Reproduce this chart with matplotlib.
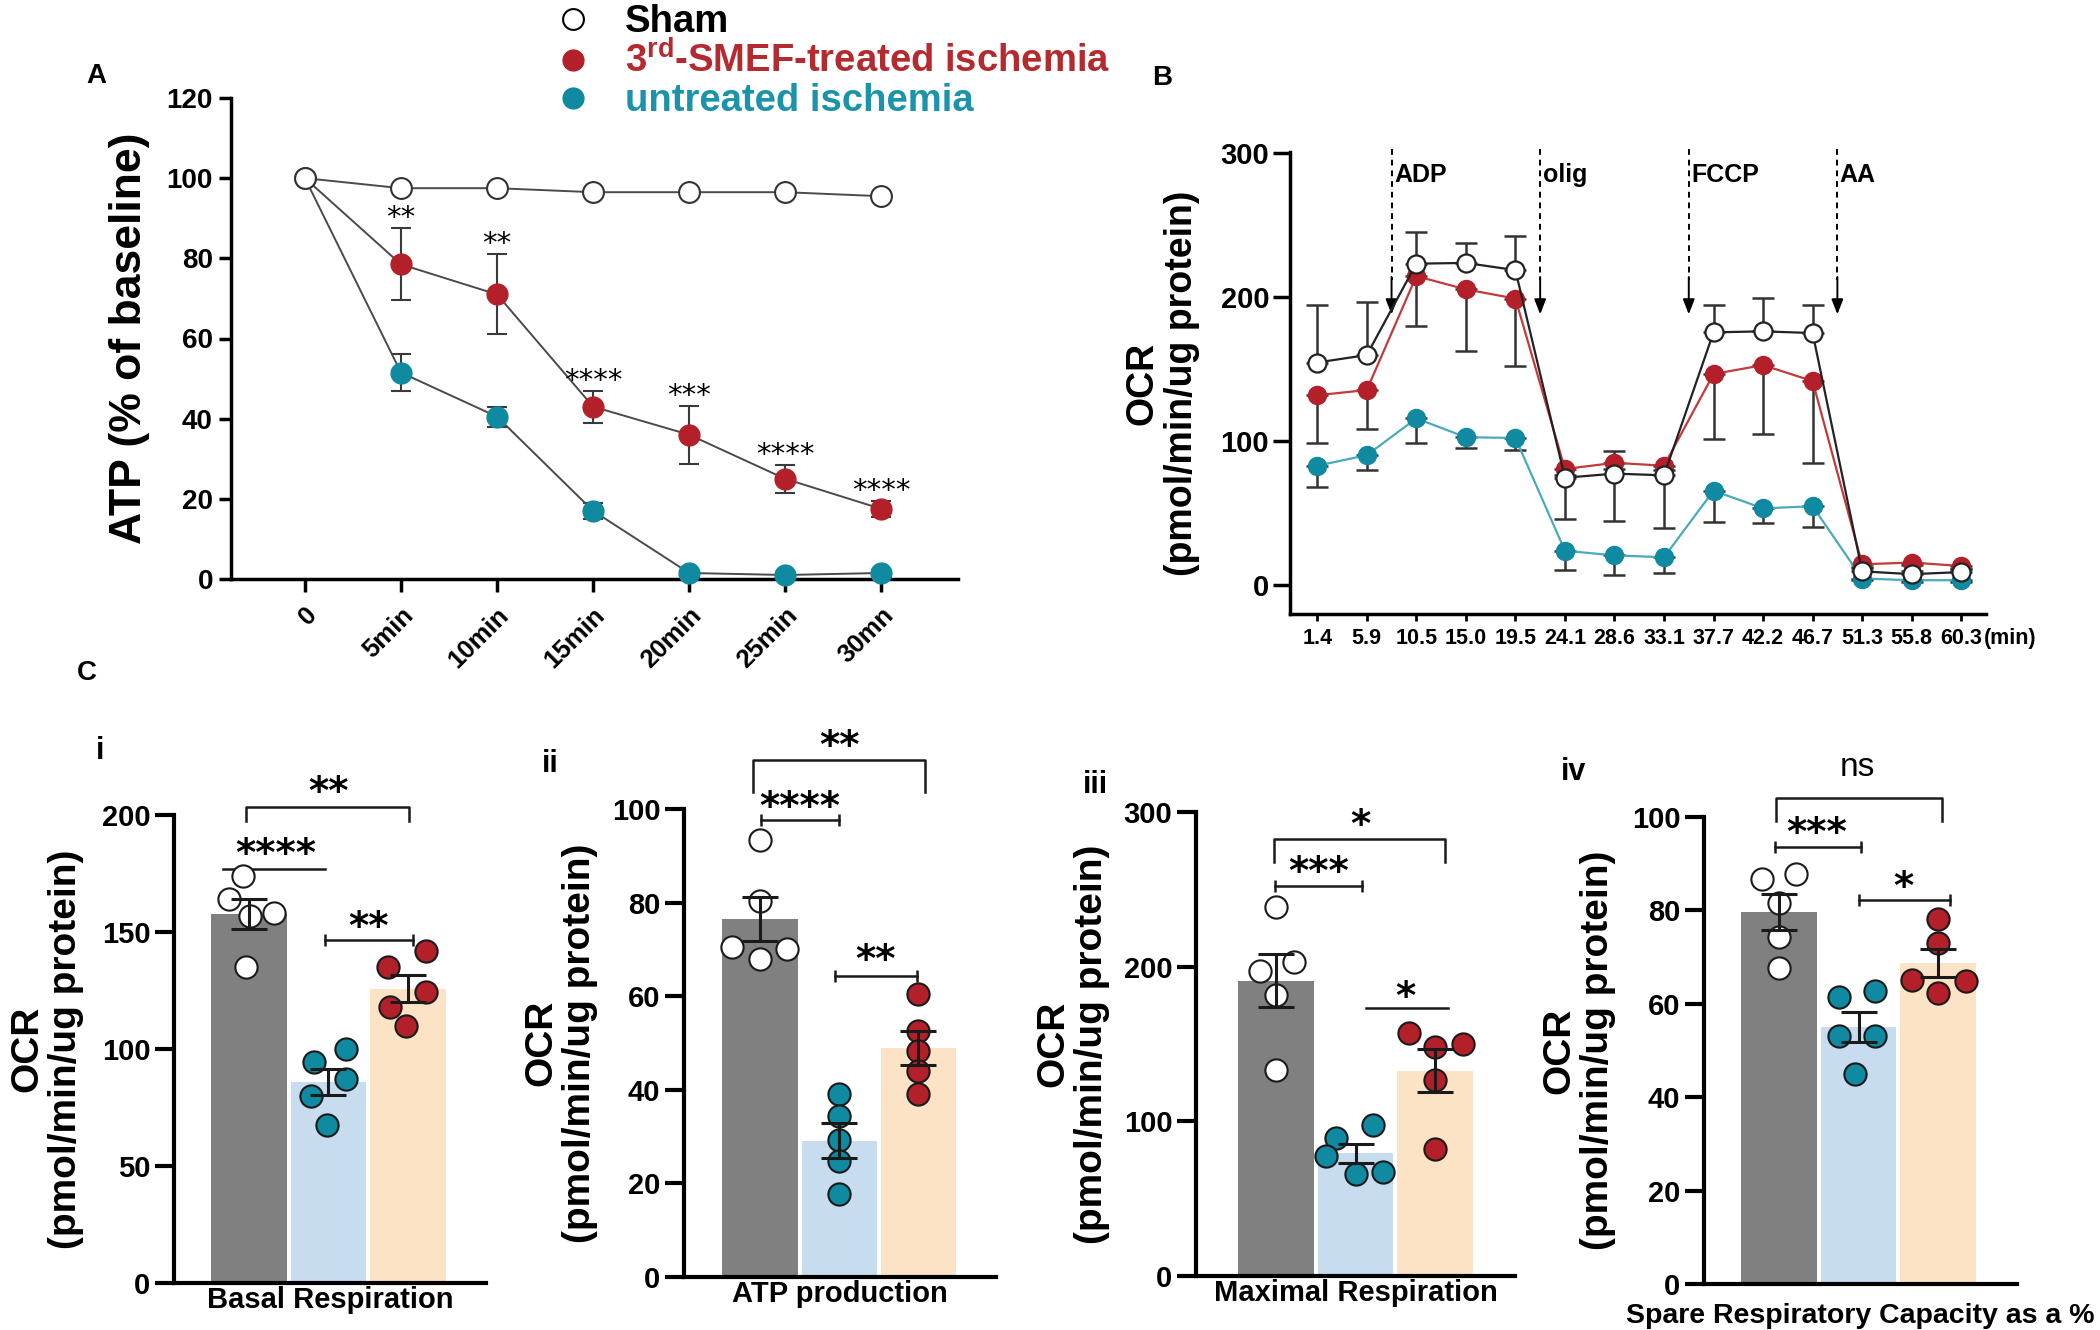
import matplotlib
matplotlib.use("Agg")
import matplotlib.pyplot as plt
from matplotlib.lines import Line2D
import numpy as np

plt.rcParams["font.family"] = ["Liberation Sans", "DejaVu Sans"]
plt.rcParams["font.weight"] = "bold"
plt.rcParams["mathtext.fontset"] = "custom"
plt.rcParams["mathtext.bf"] = "Liberation Sans:bold"
plt.rcParams["mathtext.rm"] = "Liberation Sans:bold"

# ---- panel A: ATP over ischemia time ----
atp_times = ["0", "5min", "10min", "15min", "20min", "25min", "30mn"]
atp_sham = [100, 97.5, 97.5, 96.5, 96.5, 96.5, 95.5]
atp_smef = [100, 78.5, 71, 43, 36, 25, 17.5]
atp_smef_err = [0, 9, 10, 4, 7.2, 3.5, 2]
atp_untreated = [100, 51.5, 40.5, 17, 1.5, 1, 1.5]
atp_untreated_err = [0, 4.7, 2.5, 2, 0.8, 0.8, 0.8]
atp_stars = ["", "**", "**", "****", "***", "****", "****"]

# ---- panel B: OCR trace ----
ocr_times = ["1.4", "5.9", "10.5", "15.0", "19.5", "24.1", "28.6",
             "33.1", "37.7", "42.2", "46.7", "51.3", "55.8", "60.3"]
ocr_sham = [154.5, 159.7, 223.3, 223.8, 218.8, 74.3, 77.2, 76, 175.5, 176.2, 175, 9.2, 7.2, 8.7]
ocr_sham_up = [40, 37, 22, 14, 23.5, 0, 16, 0, 19.3, 23, 19.3, 2, 2, 2]
ocr_sham_down = [0, 0, 0, 0, 0, 28.5, 33, 37, 0, 0, 0, 0, 0, 0]
ocr_smef = [131.7, 135.4, 214.6, 205.4, 199, 80.4, 84.7, 82.7, 146.5, 152.7, 141.6, 14.1, 15.3, 12.9]
ocr_smef_down = [33, 27, 35, 43, 47, 4, 4, 3, 45, 48, 57, 2, 2, 2]
ocr_untreated = [82.7, 90, 115.6, 102.5, 102, 23.5, 20.3, 19, 65.3, 53, 54.5, 4.2, 3, 3]
ocr_untreated_down = [14.7, 10.3, 17.3, 7.5, 8.2, 13.1, 13.6, 11.1, 21.5, 10, 14.5, 1, 1, 1]
injections = ["ADP", "olig", "FCCP", "AA"]
injection_after = [1, 4, 7, 10]   # injected between this point and the next

# ---- panel C: per-animal values (sham, untreated, SMEF-treated) ----
basal_sham = [174, 164, 157, 158, 135]
basal_untreated = [100, 94.3, 87, 80, 67.7]
basal_smef = [141.8, 135, 124.3, 118, 110]
atpprod_sham = [93.3, 80.4, 70.6, 70, 68]
atpprod_untreated = [39.2, 34.5, 29.2, 24.8, 17.8]
atpprod_smef = [60.4, 52.5, 48.2, 44, 39.2]
maxresp_sham = [238.5, 197.3, 203.2, 182, 133.5]
maxresp_untreated = [97.5, 89.3, 77.5, 67, 65.8]
maxresp_smef = [157.4, 148, 149.7, 126.9, 82.2]
spare_sham = [86.7, 87.9, 81.5, 74.2, 67.7]
spare_untreated = [61.5, 62.7, 53.1, 53.1, 44.9]
spare_smef = [78.2, 73, 65.1, 64.9, 62.3]

RED_DOT = "#b3202a"
TEAL_DOT = "#0f8aa1"
RED_TEXT = "#b42a2e"
TEAL_TEXT = "#1a93ab"
RED_LINE = "#c43a3a"
TEAL_LINE = "#4aaabb"
BAR_COLORS = ["#808080", "#c8dcf0", "#fde3c6"]
DOT_FACES = ["white", TEAL_DOT, RED_DOT]

fig = plt.figure(figsize=(21, 13.3), dpi=100)


def px_axes(left, top, right, bottom):
    return fig.add_axes([left / 2100, 1 - bottom / 1330,
                         (right - left) / 2100, (bottom - top) / 1330])


def style_spines(ax, lw):
    for s in ("top", "right"):
        ax.spines[s].set_visible(False)
    for s in ("left", "bottom"):
        ax.spines[s].set_linewidth(lw)


def panel_label(text, x, y, size=20):
    fig.text(x / 2100, 1 - y / 1330, text, ha="center", va="center",
             fontsize=size, fontweight="bold")


# ================= A =================
axA = px_axes(231, 98, 958, 579)
xa = np.arange(len(atp_times))
axA.errorbar(xa, atp_untreated, yerr=atp_untreated_err, fmt="none", ecolor="#3a3a3a",
             elinewidth=1.5, capsize=7, capthick=1.5, zorder=2, clip_on=False)
axA.errorbar(xa, atp_smef, yerr=atp_smef_err, fmt="none", ecolor="#3a3a3a",
             elinewidth=1.5, capsize=7, capthick=1.5, zorder=2, clip_on=False)
axA.plot(xa, atp_untreated, "-", color="#4a4a4a", lw=1.4, marker="o", ms=15,
         mfc=TEAL_DOT, mec=TEAL_DOT, zorder=3, clip_on=False)
axA.plot(xa, atp_smef, "-", color="#4a4a4a", lw=1.4, marker="o", ms=15,
         mfc=RED_DOT, mec=RED_DOT, zorder=3, clip_on=False)
axA.plot(xa, atp_sham, "-", color="#4a4a4a", lw=1.4, marker="o", ms=15,
         mfc="white", mec="#333333", mew=1.5, zorder=4, clip_on=False)
for i, s in enumerate(atp_stars):
    if s:
        axA.annotate(s, (i, atp_smef[i] + atp_smef_err[i]), xytext=(0, 1.5),
                     textcoords="offset points", ha="center", va="baseline",
                     fontsize=21, family="DejaVu Sans", fontweight="normal",
                     annotation_clip=False)
axA.set_xlim(-0.77, 6.8)
axA.set_ylim(0, 120)
axA.set_yticks(range(0, 121, 20))
axA.set_xticks(xa)
axA.set_xticklabels(atp_times, rotation=45, ha="right", rotation_mode="anchor")
axA.tick_params(axis="y", labelsize=20, length=9, width=2.5, pad=4)
axA.tick_params(axis="x", labelsize=18.5, length=9, width=2.5, pad=8)
style_spines(axA, 2.5)
axA.set_ylabel("ATP (% of baseline)", fontsize=32, fontweight="bold")
axA.yaxis.set_label_coords(-0.111, 0.5)

handles = [
    Line2D([], [], ls="none", marker="o", ms=15, mfc="white", mec="black", mew=1.5),
    Line2D([], [], ls="none", marker="o", ms=15, mfc=RED_DOT, mec=RED_DOT),
    Line2D([], [], ls="none", marker="o", ms=15, mfc=TEAL_DOT, mec=TEAL_DOT),
]
labels = ["Sham", r"3$^{\mathbf{rd}}$-SMEF-treated ischemia", "untreated ischemia"]
leg = fig.legend(handles, labels, loc="upper left",
                 bbox_to_anchor=(556 / 2100, 1 - 4 / 1330),
                 frameon=False, prop={"size": 27.5, "weight": "bold"},
                 handlelength=0.9, handletextpad=0.9, labelspacing=0.05,
                 borderpad=0, borderaxespad=0)
for t, c in zip(leg.get_texts(), ["black", RED_TEXT, TEAL_TEXT]):
    t.set_color(c)

# ================= B =================
axB = px_axes(1290, 152, 1986, 614)
xb = np.arange(len(ocr_times))
axB.errorbar(xb, ocr_untreated, yerr=[ocr_untreated_down, np.zeros(len(xb))], fmt="none",
             ecolor="#333333", elinewidth=1.8, capsize=8, capthick=1.8, zorder=2)
axB.errorbar(xb, ocr_smef, yerr=[ocr_smef_down, np.zeros(len(xb))], fmt="none",
             ecolor="#333333", elinewidth=1.8, capsize=8, capthick=1.8, zorder=2)
axB.errorbar(xb, ocr_sham, yerr=[ocr_sham_down, ocr_sham_up], fmt="none",
             ecolor="#333333", elinewidth=1.8, capsize=8, capthick=1.8, zorder=2)
axB.plot(xb, ocr_untreated, "-", color=TEAL_LINE, lw=1.6, marker="o", ms=13,
         mfc=TEAL_DOT, mec=TEAL_DOT, zorder=3)
axB.plot(xb, ocr_smef, "-", color=RED_LINE, lw=1.6, marker="o", ms=13,
         mfc=RED_DOT, mec=RED_DOT, zorder=4)
axB.plot(xb, ocr_sham, "-", color="#222222", lw=1.6, marker="o", ms=13,
         mfc="white", mec="#222222", mew=1.6, zorder=5)
for name, k in zip(injections, injection_after):
    xi = k + 0.5
    axB.plot([xi, xi], [303, 212], ls=(0, (3, 2.5)), color="black", lw=1.4,
             zorder=1, clip_on=False)
    axB.annotate("", xy=(xi, 188), xytext=(xi, 214), annotation_clip=False,
                 arrowprops=dict(arrowstyle="-|>,head_length=0.9,head_width=0.35",
                                 color="black", lw=1.4, shrinkA=0, shrinkB=0))
    axB.text(xi + 0.05, 285, name, ha="left", va="center", fontsize=18,
             fontweight="bold")
axB.set_xlim(-0.55, 13.5)
axB.set_ylim(-20.5, 301)
axB.set_yticks([0, 100, 200, 300])
axB.set_xticks(xb)
axB.set_xticklabels(ocr_times)
axB.tick_params(axis="y", labelsize=21, length=12, width=2.5, pad=3)
axB.tick_params(axis="x", labelsize=15.5, length=5, width=2, pad=5)
axB.annotate("(min)", xy=(13, 0), xycoords=("data", "axes fraction"),
             xytext=(16, -17.5), textcoords="offset points", ha="left", va="center",
             fontsize=15.5, fontweight="bold", annotation_clip=False)
style_spines(axB, 2.5)
axB.set_ylabel("OCR\n(pmol/min/ug protein)", fontsize=27, fontweight="bold",
               linespacing=1.1)
axB.yaxis.set_label_coords(-0.13, 0.5)

# ================= C =================


def bar_panel(ax, groups, jitter, ylim, yticks, xlim, xlabel, comps, label_x,
              xlabel_size=21, xlabel_pad=2):
    for i, (vals, jx) in enumerate(zip(groups, jitter)):
        vals = np.asarray(vals, dtype=float)
        m = vals.mean()
        sem = vals.std(ddof=1) / np.sqrt(len(vals))
        ax.bar(i, m, width=0.95, color=BAR_COLORS[i], zorder=1)
        ax.plot(i + np.asarray(jx), vals, "o", ms=16, mfc=DOT_FACES[i], mec="#1a1a1a",
                mew=1.5, zorder=3, clip_on=False)
        ax.errorbar(i, m, yerr=sem, fmt="none", ecolor="#1a1a1a", elinewidth=2.2,
                    capsize=13, capthick=2.2, zorder=4)
    for x1, x2, y, kind, drop, txt, tx, ty in comps:
        if kind == "bracket":
            ax.plot([x1, x1, x2, x2], [y - drop, y, y, y - drop], color="#1a1a1a",
                    lw=1.8, clip_on=False)
        elif kind == "ibeam":
            ax.plot([x1, x2], [y, y], color="#1a1a1a", lw=1.8, marker="|", ms=9,
                    mew=1.8, clip_on=False)
        else:
            ax.plot([x1, x2], [y, y], color="#1a1a1a", lw=1.8, clip_on=False)
        if txt == "ns":
            ax.annotate(txt, (tx, ty), xytext=(0, -6), textcoords="offset points",
                        ha="center", va="baseline", fontsize=24, fontweight="normal",
                        annotation_clip=False)
        else:
            ax.annotate(txt, (tx, ty), xytext=(0, -16), textcoords="offset points",
                        ha="center", va="baseline", fontsize=28,
                        family="DejaVu Sans", fontweight="bold", annotation_clip=False)
    ax.set_xlim(*xlim)
    ax.set_ylim(*ylim)
    ax.set_yticks(yticks)
    ax.set_xticks([])
    ax.tick_params(axis="y", labelsize=21, length=14, width=3, pad=3)
    style_spines(ax, 3)
    ax.set_xlabel(xlabel, fontsize=xlabel_size, fontweight="bold", labelpad=xlabel_pad)
    ax.set_ylabel("OCR\n(pmol/min/ug protein)", fontsize=28, fontweight="bold",
                  linespacing=1.1)
    ax.yaxis.set_label_coords(label_x, 0.5)


ax1 = px_axes(174, 815, 486, 1283)
bar_panel(ax1, [basal_sham, basal_untreated, basal_smef],
          [[-0.075, -0.25, 0.01, 0.32, -0.03], [0.22, -0.18, 0.22, -0.22, -0.02],
           [0.22, -0.25, 0.22, -0.23, -0.03]],
          (0, 200), range(0, 201, 50), (-0.94, 2.98), "Basal Respiration",
          [(-0.04, 2.01, 203.3, "bracket", 5.8, "**", 1.0, 214),
           (-0.33, 0.96, 177, "line", 0, "****", 0.34, 187.5),
           (0.96, 2.06, 146.4, "ibeam", 0, "**", 1.5, 156.7)], -0.288)

ax2 = px_axes(684, 809, 996, 1277)
bar_panel(ax2, [atpprod_sham, atpprod_untreated, atpprod_smef],
          [[0, 0, -0.35, 0.34, 0], [0, 0, 0, 0, 0], [0, 0, 0, 0, 0]],
          (0, 100), range(0, 101, 20), (-0.96, 2.98), "ATP production",
          [(-0.09, 2.08, 110.5, "bracket", 6.9, "**", 1.0, 115.6),
           (0.01, 1.0, 97.6, "ibeam", 0, "****", 0.5, 102.7),
           (0.95, 1.98, 64.4, "ibeam", 0, "**", 1.46, 70)], -0.276)

ax3 = px_axes(1196, 812, 1515, 1276)
bar_panel(ax3, [maxresp_sham, maxresp_untreated, maxresp_smef],
          [[0, -0.2, 0.23, 0, 0], [0.22, -0.25, -0.37, 0.35, 0], [-0.33, 0, 0.35, 0, 0]],
          (0, 300), [0, 100, 200, 300], (-1.01, 3.01), "Maximal Respiration",
          [(-0.03, 2.13, 282.6, "bracket", 14.8, "*", 1.06, 298),
           (-0.01, 1.08, 252, "ibeam", 0, "***", 0.54, 267.8),
           (1.13, 2.17, 173.2, "line", 0, "*", 1.63, 186.8)], -0.27)

ax4 = px_axes(1704, 817, 2017, 1284)
bar_panel(ax4, [spare_sham, spare_untreated, spare_smef],
          [[-0.21, 0.22, 0, 0, 0], [-0.24, 0.21, -0.24, 0.21, -0.04], [0, 0, -0.33, 0.35, 0]],
          (0, 100), range(0, 101, 20), (-0.94, 2.99), "Spare Respiratory Capacity as a %",
          [(-0.04, 2.05, 104, "bracket", 4.8, "ns", 0.99, 110.5),
           (-0.05, 1.03, 93.5, "ibeam", 0, "***", 0.48, 98.8),
           (1.0, 2.15, 82.3, "ibeam", 0, "*", 1.57, 87.1)], -0.281,
          xlabel_size=20.5, xlabel_pad=14)

panel_label("A", 96, 76)
panel_label("B", 1162, 78)
panel_label("C", 87, 673)
panel_label("i", 100, 751, 22)
panel_label("ii", 550, 764, 22)
panel_label("iii", 1095, 785, 22)
panel_label("iv", 1574, 772, 22)

fig.savefig("out.png", dpi=100)
